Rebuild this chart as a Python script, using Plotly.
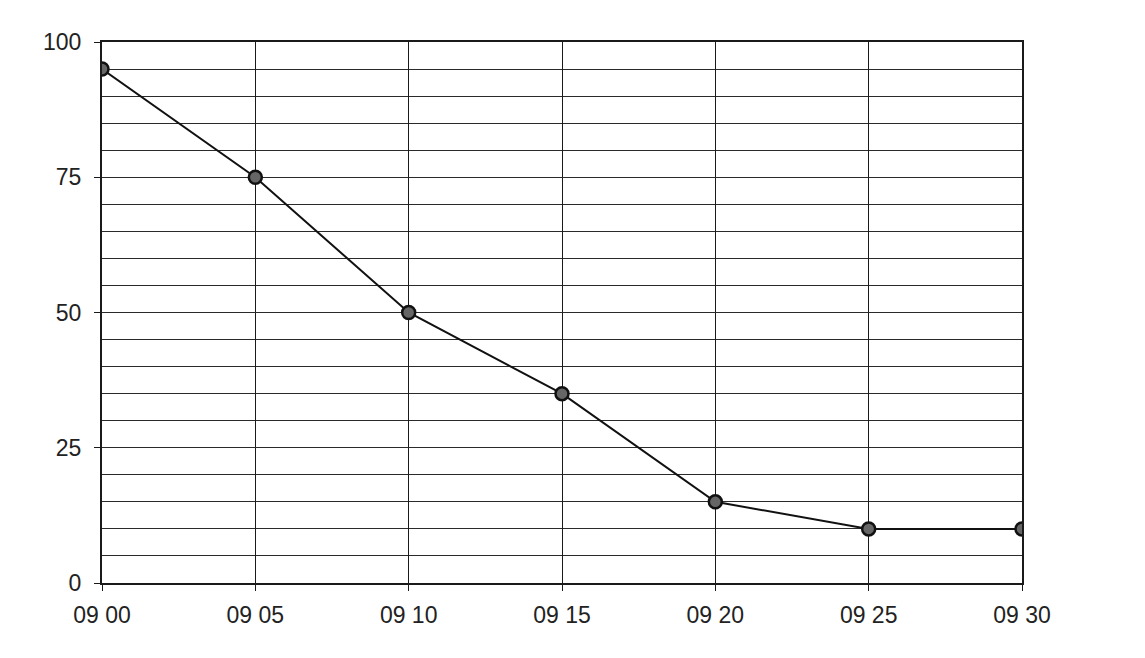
import plotly.graph_objects as go

# Horas y valores
horas = ['09 00', '09 05', '09 10', '09 15', '09 20', '09 25', '09 30']
valores = [95, 75, 50, 35, 15, 10, 10]
y_ticks = [0, 25, 50, 75, 100]

x_pos = list(range(len(horas)))

trace = go.Scatter(
    x=x_pos, y=valores,
    mode='lines+markers',
    line=dict(color='#111111', width=2),
    marker=dict(size=13, color='#666666', line=dict(color='#111111', width=2.5)),
    hoverinfo='y'
)

fig = go.Figure(data=[trace])
fig.update_layout(
    width=1145, height=658,
    paper_bgcolor='white',
    plot_bgcolor='white',
    showlegend=False,
    margin=dict(l=94, r=131, t=34, b=83),
    font=dict(family='Liberation Sans, Arial, sans-serif', size=23, color='#222222'),
    xaxis=dict(
        range=[0, 6],
        tickvals=x_pos,
        ticktext=horas,
        showgrid=True,
        gridcolor='#1a1a1a',
        gridwidth=1.3,
        showline=True,
        linecolor='#1a1a1a',
        linewidth=2,
        mirror=True,
        zeroline=False,
        ticks='outside',
        ticklen=6,
        tickcolor='#1a1a1a',
        ticklabelstandoff=4,
    ),
    yaxis=dict(
        range=[0, 100],
        tickvals=y_ticks,
        showgrid=True,
        gridcolor='#2a2a2a',
        gridwidth=1.2,
        showline=True,
        linecolor='#1a1a1a',
        linewidth=2,
        mirror=True,
        zeroline=False,
        ticks='outside',
        ticklen=6,
        tickcolor='#1a1a1a',
        ticklabelstandoff=8,
        minor=dict(dtick=5, showgrid=True, gridcolor='#2a2a2a', gridwidth=1.2),
    ),
)

fig.write_html("out.html")
